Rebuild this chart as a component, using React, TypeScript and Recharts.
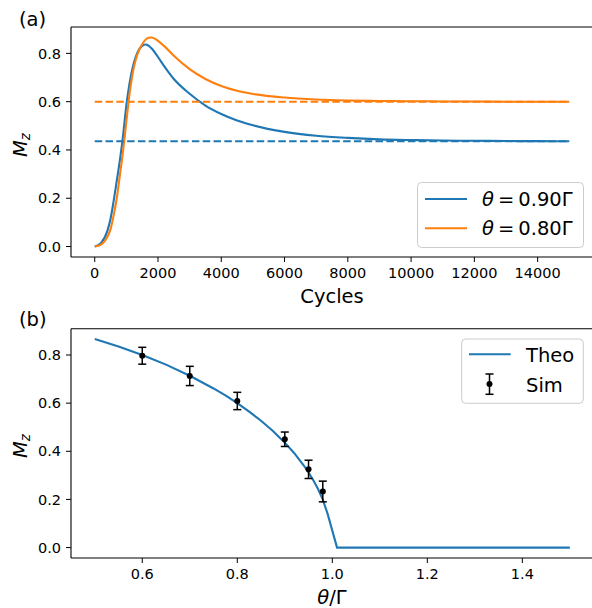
import React from 'react';
import { ComposedChart, Line, Scatter, ErrorBar, XAxis, YAxis, ReferenceLine } from 'recharts';

// panel (a): magnetisation vs cycles
const cycles = [0, 200, 400, 500, 600, 700, 800, 900, 1000, 1100, 1200, 1300, 1400, 1500, 1600, 1700, 1800, 2000, 2200, 2500, 3000, 3500, 4000, 4500, 5000, 6000, 7000, 8000, 9000, 10000, 11000, 12000, 13000, 14000, 15000];
const mzTheta090 = [0, 0.015, 0.065, 0.115, 0.19, 0.275, 0.362, 0.465, 0.585, 0.676, 0.742, 0.787, 0.816, 0.831, 0.837, 0.832, 0.82, 0.785, 0.746, 0.694, 0.633, 0.584, 0.549, 0.522, 0.502, 0.475, 0.459, 0.45, 0.444, 0.441, 0.439, 0.438, 0.437, 0.4365, 0.436];
const mzTheta080 = [0, 0.008, 0.04, 0.072, 0.13, 0.203, 0.3, 0.4, 0.518, 0.632, 0.718, 0.776, 0.812, 0.838, 0.856, 0.865, 0.866, 0.852, 0.83, 0.79, 0.735, 0.694, 0.665, 0.645, 0.632, 0.617, 0.609, 0.605, 0.603, 0.602, 0.601, 0.6005, 0.6, 0.6, 0.6];
const steadyCycles = [0, 15000];
const steady090 = [0.436, 0.436];
const steady080 = [0.6, 0.6];
const cycleTicks = [0, 2000, 4000, 6000, 8000, 10000, 12000, 14000];

// panel (b): steady state vs theta/Gamma
const thetaTheo = [0.5, 0.55, 0.6, 0.65, 0.7, 0.75, 0.775, 0.8, 0.825, 0.85, 0.875, 0.9, 0.92, 0.94, 0.95, 0.96, 0.97, 0.98, 0.99, 1.01, 1.5];
const mzTheo = [0.866, 0.835, 0.8, 0.76, 0.714, 0.661, 0.632, 0.6, 0.565, 0.527, 0.484, 0.436, 0.392, 0.341, 0.312, 0.28, 0.243, 0.199, 0.141, 0, 0];
const thetaSim = [0.6, 0.7, 0.8, 0.9, 0.95, 0.98];
const mzSim = [0.797, 0.713, 0.609, 0.45, 0.325, 0.233];
const mzSimErr = [0.035, 0.04, 0.036, 0.03, 0.038, 0.043];
const thetaTicks = [0.6, 0.8, 1.0, 1.2, 1.4];
const mzTicks = [0, 0.2, 0.4, 0.6, 0.8];

const BLUE = '#1f77b4';
const ORANGE = '#ff7f0e';
const FONT = '"DejaVu Sans", sans-serif';
const Y_DOMAIN: [number, number] = [-0.0433, 0.9093];

const curveData = cycles.map((c, i) => ({ c, a: mzTheta090[i], b: mzTheta080[i] }));
const steadyA = steadyCycles.map((c, i) => ({ c, v: steady090[i] }));
const steadyB = steadyCycles.map((c, i) => ({ c, v: steady080[i] }));
const theoData = thetaTheo.map((x, i) => ({ x, y: mzTheo[i] }));
const simData = thetaSim.map((x, i) => ({ x, y: mzSim[i], err: mzSimErr[i] }));

const tickStyle = { fill: '#000', fontSize: 14.5, fontFamily: FONT };
const axisLine = { stroke: '#000', strokeWidth: 1.1 };

const fmt1 = (v: number) => v.toFixed(1);

function MzLabel({ cy }: { cy: number }) {
  return (
    <text transform={`translate(27,${cy}) rotate(-90)`} textAnchor="middle" fontSize={19.5} fontFamily={FONT}>
      <tspan fontStyle="italic">M</tspan>
      <tspan fontStyle="italic" fontSize={13.5} dy={3}>z</tspan>
    </text>
  );
}

export default function App() {
  return (
    <div style={{ position: 'absolute', left: 0, top: 0, width: 592, height: 608, overflow: 'hidden', background: '#fff', fontFamily: FONT }}>
      <div style={{ position: 'absolute', left: 0, top: 0 }}>
        <ComposedChart width={600} height={300} data={curveData} margin={{ top: 27, right: 7, bottom: 13, left: 21 }}>
          <XAxis
            dataKey="c"
            type="number"
            domain={[-750, 15750]}
            ticks={cycleTicks}
            interval={0}
            tick={tickStyle}
            tickSize={5}
            tickMargin={6}
            axisLine={axisLine}
            tickLine={{ stroke: '#000' }}
            height={30}
            allowDataOverflow
          />
          <YAxis
            type="number"
            domain={Y_DOMAIN}
            ticks={mzTicks}
            interval={0}
            tickFormatter={fmt1}
            tick={tickStyle}
            tickSize={5}
            tickMargin={5}
            axisLine={axisLine}
            tickLine={{ stroke: '#000' }}
            width={50}
            allowDataOverflow
          />
          <ReferenceLine y={Y_DOMAIN[1]} stroke="#000" strokeWidth={1.1} />
          <Line type="monotone" dataKey="a" stroke={BLUE} strokeWidth={2.1} dot={false} isAnimationActive={false} />
          <Line type="monotone" dataKey="b" stroke={ORANGE} strokeWidth={2.1} dot={false} isAnimationActive={false} />
          <Line data={steadyA} dataKey="v" stroke={BLUE} strokeWidth={2.1} strokeDasharray="7.5 3.3" dot={false} isAnimationActive={false} />
          <Line data={steadyB} dataKey="v" stroke={ORANGE} strokeWidth={2.1} strokeDasharray="7.5 3.3" dot={false} isAnimationActive={false} />
        </ComposedChart>
      </div>

      <div style={{ position: 'absolute', left: 0, top: 300 }}>
        <ComposedChart width={600} height={308} margin={{ top: 28.7, right: 6.4, bottom: 20, left: 21 }}>
          <XAxis
            dataKey="x"
            type="number"
            domain={[0.45, 1.55]}
            ticks={thetaTicks}
            interval={0}
            tickFormatter={fmt1}
            tick={tickStyle}
            tickSize={5}
            tickMargin={6}
            axisLine={axisLine}
            tickLine={{ stroke: '#000' }}
            height={30}
            allowDataOverflow
          />
          <YAxis
            type="number"
            domain={Y_DOMAIN}
            ticks={mzTicks}
            interval={0}
            tickFormatter={fmt1}
            tick={tickStyle}
            tickSize={5}
            tickMargin={5}
            axisLine={axisLine}
            tickLine={{ stroke: '#000' }}
            width={50}
            allowDataOverflow
          />
          <ReferenceLine y={Y_DOMAIN[1]} stroke="#000" strokeWidth={1.1} />
          <Line data={theoData} dataKey="y" type="linear" stroke={BLUE} strokeWidth={2.1} dot={false} isAnimationActive={false} />
          <Scatter
            data={simData}
            dataKey="y"
            fill="#000"
            isAnimationActive={false}
            shape={(p: any) => <circle cx={p.cx} cy={p.cy} r={3} fill="#000" />}
          >
            <ErrorBar dataKey="err" direction="y" width={4} stroke="#000" strokeWidth={1.5} />
          </Scatter>
        </ComposedChart>
      </div>

      <svg width={592} height={608} style={{ position: 'absolute', left: 0, top: 0, pointerEvents: 'none' }} fontFamily={FONT}>
        <text x={19} y={25.8} fontSize={19.5}>(a)</text>
        <text x={19} y={325.8} fontSize={19.5}>(b)</text>
        <text x={332} y={302.5} fontSize={19.5} textAnchor="middle">Cycles</text>
        <text x={332} y={603.5} fontSize={19.5} textAnchor="middle">
          <tspan fontStyle="italic">θ</tspan>/Γ
        </text>
        <MzLabel cy={145} />
        <MzLabel cy={446} />

        {/* legend (a) */}
        <rect x={417.5} y={182.5} width={166} height={65} rx={4} fill="#fff" fillOpacity={0.8} stroke="#ccc" />
        <line x1={425} x2={467} y1={199} y2={199} stroke={BLUE} strokeWidth={2.1} />
        <line x1={425} x2={467} y1={228.3} y2={228.3} stroke={ORANGE} strokeWidth={2.1} />
        <text x={482} y={205.5} fontSize={19.5}>
          <tspan fontStyle="italic">θ</tspan><tspan dx={4}>=</tspan><tspan dx={4}>0.90Γ</tspan>
        </text>
        <text x={482} y={235} fontSize={19.5}>
          <tspan fontStyle="italic">θ</tspan><tspan dx={4}>=</tspan><tspan dx={4}>0.80Γ</tspan>
        </text>

        {/* legend (b) */}
        <rect x={461.7} y={339} width={121.6} height={64.3} rx={4} fill="#fff" fillOpacity={0.8} stroke="#ccc" />
        <line x1={469} x2={510.7} y1={354.3} y2={354.3} stroke={BLUE} strokeWidth={2.1} />
        <line x1={489.5} x2={489.5} y1={374} y2={394.3} stroke="#000" strokeWidth={1.5} />
        <line x1={485.5} x2={493.5} y1={374} y2={374} stroke="#000" strokeWidth={1.5} />
        <line x1={485.5} x2={493.5} y1={394.3} y2={394.3} stroke="#000" strokeWidth={1.5} />
        <circle cx={489.5} cy={384} r={3} fill="#000" />
        <text x={526} y={362} fontSize={19.5}>Theo</text>
        <text x={526} y={391.7} fontSize={19.5}>Sim</text>
      </svg>
    </div>
  );
}
